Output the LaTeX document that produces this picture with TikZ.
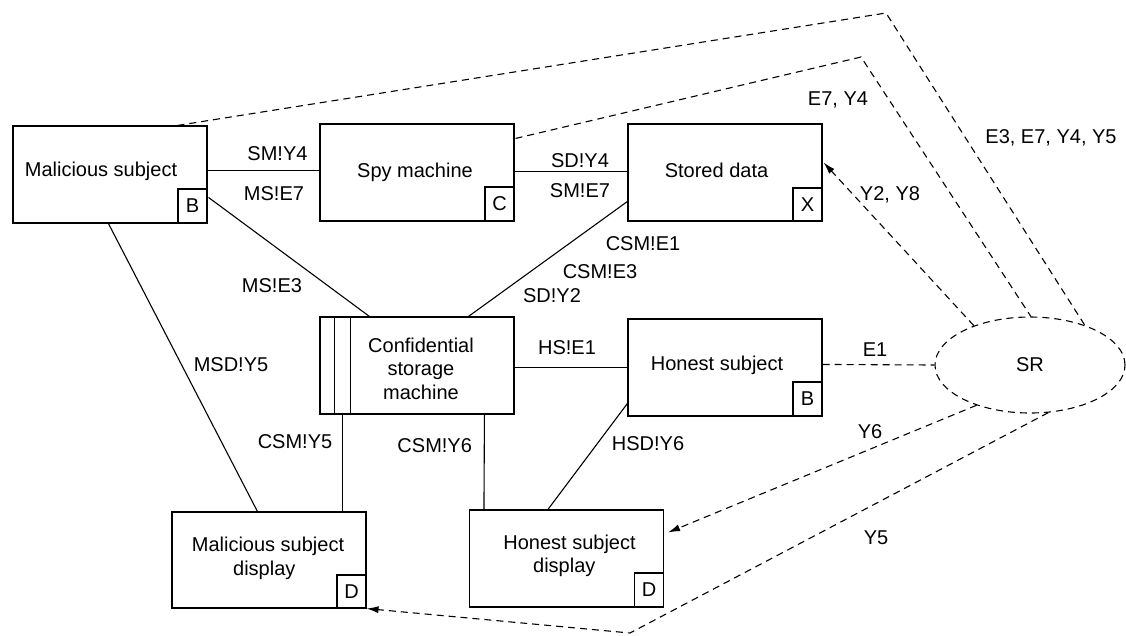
\documentclass[tikz,border=0pt]{standalone}
\usepackage{fontspec}
\setmainfont{Liberation Sans}
\usetikzlibrary{shapes.geometric,arrows.meta,calc}

\begin{document}
\begin{tikzpicture}[x=1pt,y=-1pt,
  every node/.style={font=\fontsize{20}{24}\selectfont},
  box/.style={draw, line width=1.1pt, minimum width=194pt, minimum height=97pt, inner sep=0pt},
  tag/.style={draw, line width=1.1pt, minimum width=29pt, minimum height=34pt, inner sep=0pt, anchor=south east},
  txt/.style={inner sep=0pt, anchor=base},
  wire/.style={line width=1.1pt},
  dashwire/.style={line width=1.1pt, dash pattern=on 7pt off 5pt},
  tip/.style={-{Latex[length=12pt,width=7pt]}}
]
\useasboundingbox (0,0) rectangle (1126,635);

% domains
\node[box] (ms)  at (110,174.5) {};
\node[box] (spy) at (417,172.5) {};
\node[box] (sd)  at (725,172.5) {};
\node[box] (csm) at (417,365.5) {};
\node[box] (hs)  at (725,367.5) {};
\node[box] (hsd) at (566.5,558.5) {};
\node[box, minimum height=96pt] (msd) at (269,560) {};

% machine domain stripes
\draw[wire] ($(csm.north west)+(15,0)$) -- ($(csm.south west)+(15,0)$);
\draw[wire] ($(csm.north west)+(31,0)$) -- ($(csm.south west)+(31,0)$);

% domain type tags
\node[tag] (msB)  at (ms.south east)  {B};
\node[tag] (spyC) at (spy.south east) {C};
\node[tag, minimum height=33pt] (sdX) at (sd.south east) {X};
\node[tag] (hsB)  at (hs.south east)  {B};
\node[tag] (hsdD) at (hsd.south east) {D};
\node[tag, minimum height=33pt] (msdD) at (msd.south east) {D};

% domain names
\node[txt] (msT)  at (101,176.5) {Malicious subject};
\node[txt] (spyT) at (415,177) {Spy machine};
\node[txt] (sdT)  at (716.5,177) {Stored data};
\node[txt] (hsT)  at (717,370) {Honest subject};
\node[txt] (csmT1) at (421,352) {Confidential};
\node[txt] (csmT2) at (421,375.5) {storage};
\node[txt] (csmT3) at (421,399) {machine};
\node[txt] (hsdT1) at (569.5,549.3) {Honest subject};
\node[txt] (hsdT2) at (564.3,572.7) {display};
\node[txt] (msdT1) at (268,551.7) {Malicious subject};
\node[txt] (msdT2) at (264.3,575) {display};

% requirement
\node[draw, dashwire, ellipse, minimum width=190pt, minimum height=96pt, inner sep=0pt] (sr) at (1030,365) {SR};

% interfaces
\draw[wire] ($(ms.north east)+(0,45)$) -- ($(spy.north west)+(0,47)$);
\draw[wire] ($(spy.north east)+(0,48)$) -- ($(sd.north west)+(0,48)$);
\draw[wire] ($(ms.north east)+(1,72)$) -- ($(csm.north west)+(50,0)$);
\draw[wire] ($(sd.north west)+(0,78)$) -- ($(csm.north west)+(149,0)$);
\draw[wire] ($(ms.south west)+(96,0)$) -- ($(msd.north west)+(86,0)$);
\draw[wire] ($(csm.south west)+(23,0)$) -- ($(msd.north west)+(171,0)$);
\draw[wire] ($(csm.south west)+(165,0)$) -- ($(hsd.north west)+(15,0)$);
\draw[wire] ($(csm.north east)+(0,51)$) -- ($(hs.north west)+(0,49)$);
\draw[wire] ($(hs.north west)+(0,85)$) -- ($(hsd.north west)+(79,0)$);

% requirement references
\coordinate (outerTop) at (886,13);
\coordinate (innerTop) at (861,57);
\coordinate (lowBend)  at (630,633);
\draw[dashwire] ($(ms.north west)+(165,0)$) -- (outerTop) -- (sr.36);
\draw[dashwire] ($(spy.north east)+(1,15)$) -- (innerTop) -- (sr.89);
\draw[dashwire] ($(hs.north east)+(0,46)$) -- (sr.west);
\draw[dashwire, tip] (sr.145) -- ($(sd.north east)+(1,39)$);
\draw[dashwire, tip] (sr.217) -- ($(hsd.north east)+(4,23)$);
\draw[dashwire, tip] (sr.291) -- (lowBend) -- (msd.south east);

% interface labels
\node[txt] (l1)  at (277.5,160) {SM!Y4};
\node[txt] (l2)  at (274,200.7) {MS!E7};
\node[txt] (l3)  at (272,292.7) {MS!E3};
\node[txt] (l4)  at (580,167) {SD!Y4};
\node[txt] (l5)  at (580,197) {SM!E7};
\node[txt] (l6)  at (643,250) {CSM!E1};
\node[txt] (l7)  at (600,278) {CSM!E3};
\node[txt] (l8)  at (552,302) {SD!Y2};
\node[txt] (l9)  at (231,371.7) {MSD!Y5};
\node[txt] (l10) at (295,448) {CSM!Y5};
\node[txt] (l11) at (434.7,452.7) {CSM!Y6};
\node[txt] (l12) at (567,354) {HS!E1};
\node[txt] (l13) at (648,450.7) {HSD!Y6};

% reference labels
\node[txt] (r1) at (838,105) {E7, Y4};
\node[txt] (r2) at (1051,143) {E3, E7, Y4, Y5};
\node[txt] (r3) at (890,200) {Y2, Y8};
\node[txt] (r4) at (875,356) {E1};
\node[txt] (r5) at (870,438) {Y6};
\node[txt] (r6) at (876,544) {Y5};
\end{tikzpicture}
\end{document}
